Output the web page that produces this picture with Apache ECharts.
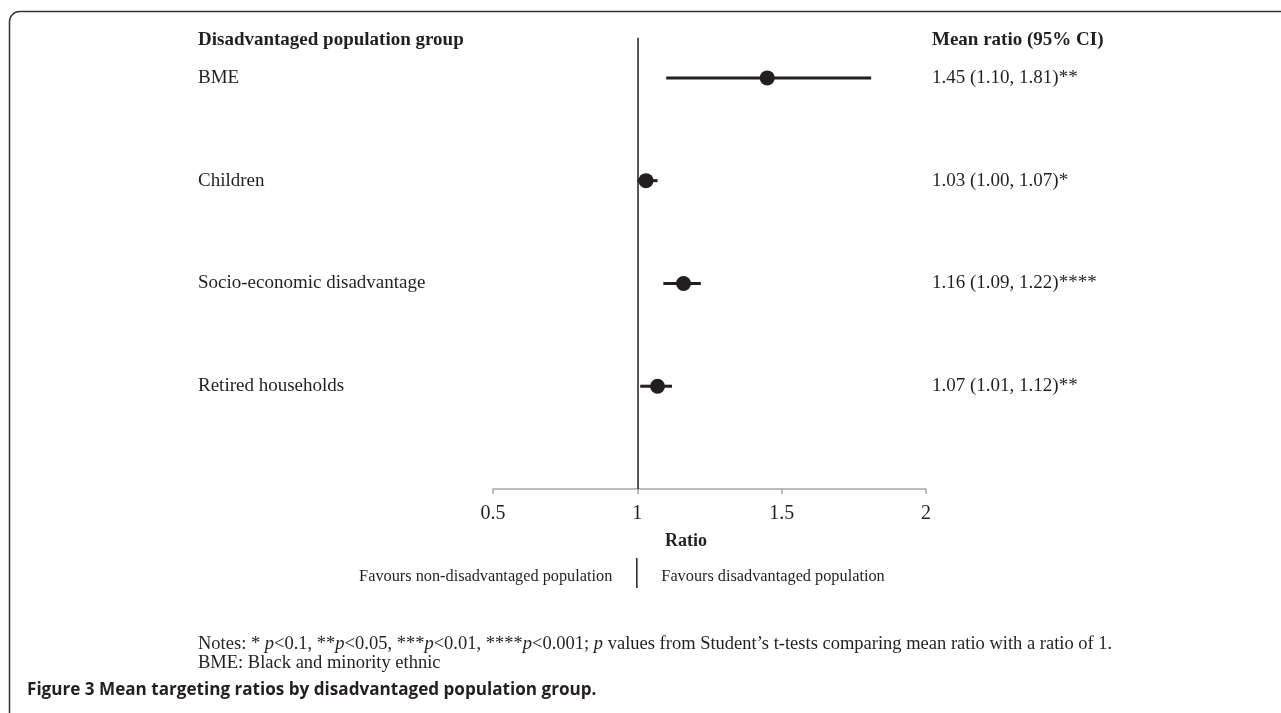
<!DOCTYPE html>
<html>
<head>
<meta charset="utf-8">
<script src="https://cdn.jsdelivr.net/npm/echarts@6/dist/echarts.min.js"></script>
<style>
html,body{margin:0;padding:0;background:#fff;}
#c{width:1281px;height:713px;}
</style>
</head>
<body>
<div id="c"></div>
<script>
var groups = ['BME', 'Children', 'Socio-economic disadvantage', 'Retired households'];
var means = [1.45, 1.03, 1.16, 1.07];
var lower = [1.10, 1.00, 1.09, 1.01];
var upper = [1.81, 1.07, 1.22, 1.12];
var ciLabels = ['1.45 (1.10, 1.81)**', '1.03 (1.00, 1.07)*', '1.16 (1.09, 1.22)****', '1.07 (1.01, 1.12)**'];
var xTicks = [0.5, 1, 1.5, 2];
var refValue = 1;

var serif = '"Liberation Serif", "Times New Roman", serif';
var ink = '#231f20';

var chart = echarts.init(document.getElementById('c'));

var rows = groups.map(function (g, i) { return i + 1; });

chart.setOption({
  animation: false,
  grid: { left: 493, right: 355, top: 26.5, bottom: 224 },
  xAxis: {
    type: 'value', min: xTicks[0], max: xTicks[xTicks.length - 1], interval: 0.5,
    splitLine: { show: false },
    axisLine: { lineStyle: { color: '#a6a6a6', width: 1.5 } },
    axisTick: { show: true, length: 5, lineStyle: { color: '#a6a6a6', width: 1.5 } },
    axisLabel: { color: ink, fontFamily: serif, fontSize: 20, margin: 15,
      formatter: function (v) { return String(v); } },
    name: 'Ratio', nameLocation: 'middle', nameGap: 43,
    nameTextStyle: { color: ink, fontFamily: serif, fontSize: 18, fontWeight: 'bold', padding: [0, 47, 0, 0] }
  },
  yAxis: {
    type: 'value', inverse: true, min: 0.5, max: 5, show: false
  },
  series: [
    {
      type: 'custom',
      data: rows.map(function (r, i) { return [lower[i], upper[i], r]; }),
      renderItem: function (params, api) {
        var p1 = api.coord([api.value(0), api.value(2)]);
        var p2 = api.coord([api.value(1), api.value(2)]);
        return { type: 'line', shape: { x1: p1[0], y1: p1[1], x2: p2[0], y2: p2[1] },
          style: { stroke: ink, lineWidth: 3 } };
      },
      silent: true, z: 2
    },
    {
      type: 'scatter',
      data: rows.map(function (r, i) { return [means[i], r]; }),
      symbol: 'circle', symbolSize: 15,
      itemStyle: { color: ink, opacity: 1 },
      z: 3,
      markLine: {
        silent: true, symbol: 'none', label: { show: false },
        lineStyle: { color: ink, width: 1.5, type: 'solid' },
        data: [[{ coord: [refValue, 0.61] }, { coord: [refValue, 5] }]]
      }
    }
  ]
});

var graphics = [];
function rowY(r) { return chart.convertToPixel({ gridIndex: 0 }, [1, r])[1]; }
var refX = chart.convertToPixel({ gridIndex: 0 }, [refValue, 1])[0];
var headerY = 40;
var leftX = 198;

graphics.push({ type: 'text', x: leftX, y: headerY, style: { text: 'Disadvantaged population group', font: 'bold 19px ' + serif, fill: ink, verticalAlign: 'middle' } });
graphics.push({ type: 'text', x: 932, y: headerY, style: { text: 'Mean ratio (95% CI)', font: 'bold 19px ' + serif, fill: ink, verticalAlign: 'middle' } });

groups.forEach(function (g, i) {
  var y = rowY(i + 1);
  graphics.push({ type: 'text', x: leftX, y: y, style: { text: g, font: '19px ' + serif, fill: ink, verticalAlign: 'middle', align: 'left' } });
  graphics.push({ type: 'text', x: 932, y: y, style: { text: ciLabels[i], font: '19px ' + serif, fill: ink, verticalAlign: 'middle', align: 'left' } });
});

graphics.push({ type: 'text', x: refX - 25, y: 577, style: { text: 'Favours non-disadvantaged population', font: '16.3px ' + serif, fill: ink, align: 'right', verticalAlign: 'middle' } });
graphics.push({ type: 'text', x: refX + 24, y: 577, style: { text: 'Favours disadvantaged population', font: '16.3px ' + serif, fill: ink, align: 'left', verticalAlign: 'middle' } });
graphics.push({ type: 'line', shape: { x1: refX - 0.5, y1: 558, x2: refX - 0.5, y2: 588 }, style: { stroke: ink, lineWidth: 1.5 } });

graphics.push({ type: 'text', x: leftX, y: 644, style: {
  text: 'Notes: * {i|p}<0.1, **{i|p}<0.05, ***{i|p}<0.01, ****{i|p}<0.001; {i|p} values from Student\u2019s t-tests comparing mean ratio with a ratio of 1.',
  font: '18.5px ' + serif, fill: ink, verticalAlign: 'middle',
  rich: { i: { fontStyle: 'italic', fontFamily: serif, fontSize: 18.5, fill: ink } } } });
graphics.push({ type: 'text', x: leftX, y: 663, style: { text: 'BME: Black and minority ethnic', font: '18.5px ' + serif, fill: ink, verticalAlign: 'middle' } });

graphics.push({ type: 'text', x: 27, y: 690, scaleX: 0.95, style: { text: 'Figure 3 Mean targeting ratios by disadvantaged population group.', font: 'bold 18px "Open Sans", sans-serif', fill: ink, verticalAlign: 'middle' } });

graphics.push({ type: 'rect', shape: { x: 9.5, y: 11.5, width: 1400, height: 800, r: [10, 0, 0, 0] }, style: { stroke: '#333', lineWidth: 1.5, fill: null }, silent: true });

chart.setOption({ graphic: graphics });
</script>
</body>
</html>
